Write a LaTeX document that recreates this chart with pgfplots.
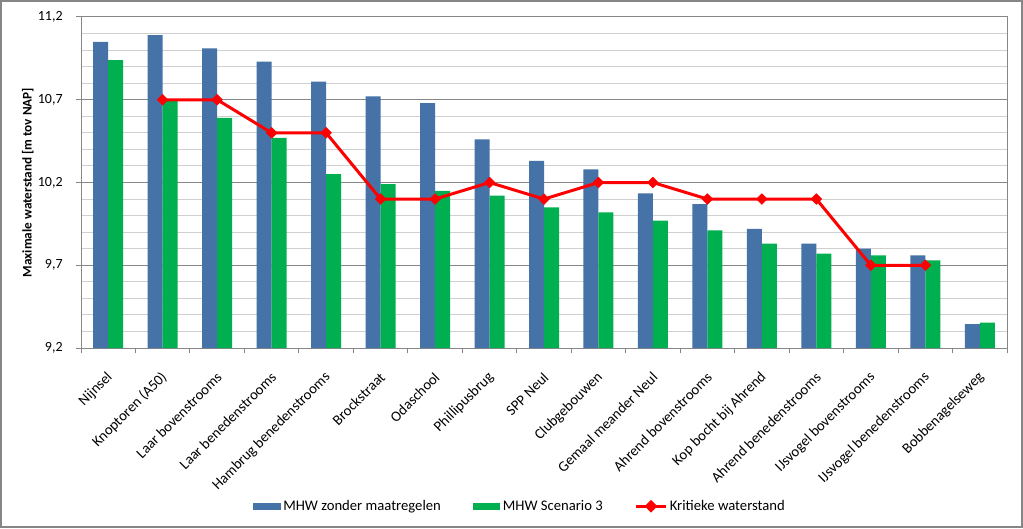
\documentclass[border=0pt]{standalone}
\usepackage{pgfplots}
\pgfplotsset{compat=1.18}
\usepackage{fontspec}
\setmainfont{Carlito}
\definecolor{cblue}{HTML}{4572A7}
\definecolor{cgreen}{HTML}{00B050}
\definecolor{cred}{HTML}{FF0000}
\definecolor{cgrid}{HTML}{868686}
\definecolor{cminor}{HTML}{D0D0D0}
\begin{document}
\begin{tikzpicture}
\path[use as bounding box] (-60.75pt,-135pt) rectangle (706.5pt,261pt);
\draw[cgrid, line width=1.5pt] (-60pt,-134.25pt) rectangle (705.75pt,260.25pt);
\begin{axis}[
  at={(0,0)}, anchor=south west,
  scale only axis, width=694.5pt, height=248.25pt,
  xmin=-0.5, xmax=16.5, ymin=9.2, ymax=11.2,
  xtick={0,...,16},
  xticklabels={Nijnsel,Knoptoren (A50),Laar bovenstrooms,Laar benedenstrooms,Hambrug benedenstrooms,Brockstraat,Odaschool,Phillipusbrug,SPP Neul,Clubgebouwen,Gemaal meander Neul,Ahrend bovenstrooms,Kop bocht bij Ahrend,Ahrend benedenstrooms,IJsvogel bovenstrooms,IJsvogel benedenstrooms,Bobbenagelseweg},
  minor xtick={-0.5,0.5,...,16.5},
  ytick={9.2,9.7,10.2,10.7,11.2},
  minor ytick={9.3,9.4,9.5,9.6,9.8,9.9,10,10.1,10.3,10.4,10.5,10.6,10.8,10.9,11,11.1},
  ymajorgrids, yminorgrids,
  major grid style={cgrid, line width=0.75pt},
  minor grid style={cminor, line width=0.75pt},
  axis line style={cgrid, line width=0.75pt},
  tick align=outside, xtick pos=lower, ytick pos=left,
  major tick length=3.75pt, minor tick length=3.75pt,
  major x tick style={draw=none},
  minor y tick style={draw=none},
  every tick/.style={cgrid, line width=0.75pt},
  minor x tick style={cgrid, line width=0.75pt},
  yticklabel style={font=\fontsize{10.5}{12}\selectfont, xshift=-6.5pt,
    /pgf/number format/use comma, /pgf/number format/fixed, /pgf/number format/fixed zerofill, /pgf/number format/precision=1, /pgf/number format/assume math mode=true},
  xticklabel style={font=\fontsize{11}{13}\selectfont, rotate=45, anchor=east, inner sep=1pt, xshift=-9.5pt, yshift=-12.7pt},
  ylabel={Maximale waterstand [m tov NAP]},
  ylabel style={font=\fontsize{9.9}{12}\selectfont\bfseries, at={(axis description cs:-0.0575,0.5)}, anchor=center},
  legend columns=3,
  legend style={draw=none, fill=none, at={(axis description cs:0.4745,-0.478)}, anchor=center, font=\fontsize{11}{13}\selectfont, /tikz/every even column/.append style={column sep=22pt}},
  legend cell align=left,
]
\addplot[ybar, bar width=11.25pt, bar shift=-5.625pt, fill=cblue, draw=none,
  legend image code/.code={\fill[cblue] (0pt,-2.6pt) rectangle (20.5pt,2.6pt);}]
coordinates {(0,11.05) (1,11.09) (2,11.01) (3,10.93) (4,10.81) (5,10.72) (6,10.68) (7,10.46) (8,10.33) (9,10.28) (10,10.135) (11,10.07) (12,9.92) (13,9.83) (14,9.80) (15,9.76) (16,9.345)};
\addlegendentry{MHW zonder maatregelen}
\addplot[ybar, bar width=11.25pt, bar shift=5.625pt, fill=cgreen, draw=none,
  legend image code/.code={\fill[cgreen] (0pt,-2.6pt) rectangle (20.5pt,2.6pt);}]
coordinates {(0,10.94) (1,10.70) (2,10.59) (3,10.47) (4,10.25) (5,10.19) (6,10.15) (7,10.12) (8,10.05) (9,10.02) (10,9.97) (11,9.91) (12,9.83) (13,9.77) (14,9.76) (15,9.73) (16,9.353)};
\addlegendentry{MHW Scenario 3}
\addplot[cred, line width=2.25pt, mark=square*, mark size=2.8pt, mark options={rotate=45, line width=0.5pt},
  legend image code/.code={\draw[cred, line width=2.25pt] (0pt,0pt) -- (22pt,0pt); \fill[cred] (11pt,0pt) +(0,3.2pt) -- +(3.2pt,0) -- +(0,-3.2pt) -- +(-3.2pt,0) -- cycle;}]
coordinates {(1,10.7) (2,10.7) (3,10.5) (4,10.5) (5,10.1) (6,10.1) (7,10.2) (8,10.1) (9,10.2) (10,10.2) (11,10.1) (12,10.1) (13,10.1) (14,9.7) (15,9.7)};
\addlegendentry{Kritieke waterstand}
\end{axis}
\end{tikzpicture}
\end{document}
